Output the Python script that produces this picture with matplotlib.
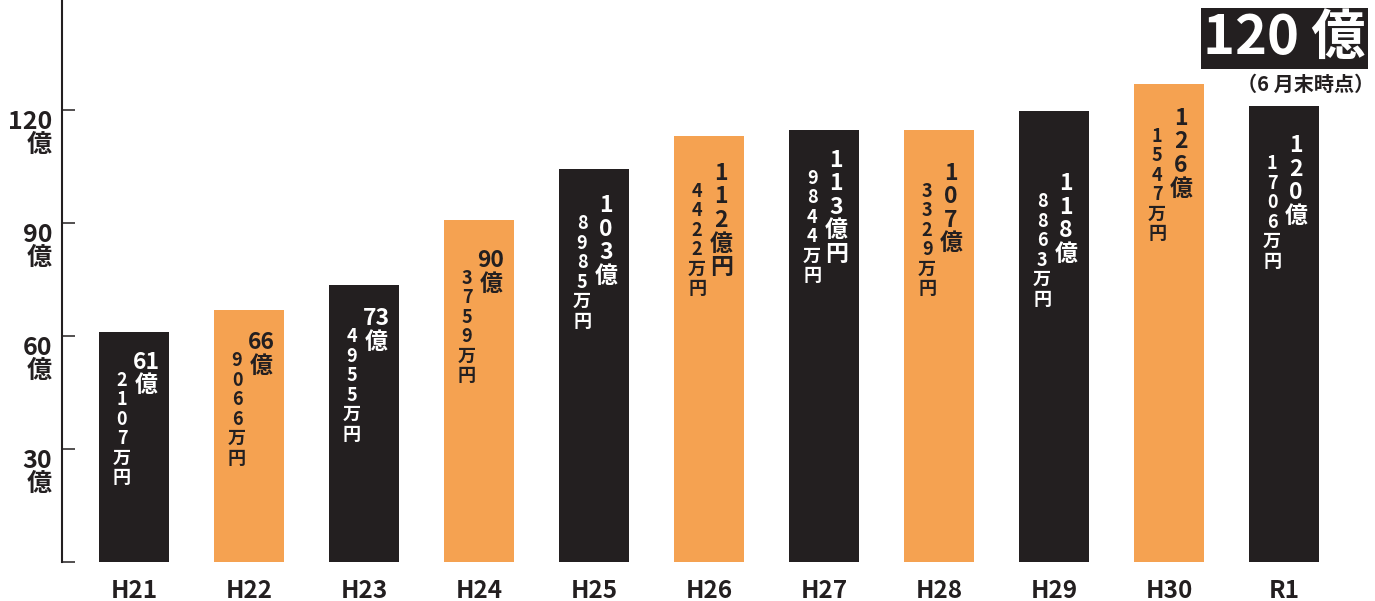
import matplotlib
matplotlib.use("Agg")
import matplotlib.pyplot as plt

plt.rcParams["font.family"] = ["Noto Sans CJK JP", "DejaVu Sans"]

# values
years = ["H21", "H22", "H23", "H24", "H25", "H26", "H27", "H28", "H29", "H30", "R1"]
bar_height = [61.1, 66.9, 73.5, 90.8, 104.3, 113.1, 114.7, 114.7, 119.7, 126.9, 121.0]
oku_label = ["61億", "66億", "73億", "90億", "103億", "112億円", "113億円",
             "107億", "118億", "126億", "120億"]
man_label = ["2107万円", "9066万円", "4955万円", "3759万円", "8985万円", "4422万円",
             "9844万円", "3329万円", "8863万円", "1547万円", "1706万円"]
y_ticks = [30, 60, 90, 120]
headline = "120 億"
headline_note = "（6 月末時点）"

BLACK = "#231f20"
ORANGE = "#f5a251"
bar_colors = [BLACK if i % 2 == 0 else ORANGE for i in range(len(years))]

# how far (px) the label block starts below each bar top
label_drop = [20, 22, 23, 30, 26, 27, 20, 33, 62, 24, 29]

PX = 72 / 100  # pixel -> points at dpi 100


def split_units(label):
    # "61億" stays as "61" + "億"; longer numbers get one character per line
    num = label.rstrip("億万円")
    rest = label[len(num):]
    if len(num) <= 2:
        return [num] + list(rest)
    return list(label)


def stack(ax, x, top, units, dx, first_base, pitch, size, color):
    for k, u in enumerate(units):
        ax.annotate(u, xy=(x, top),
                    xytext=(dx * PX, -(first_base + k * pitch) * PX),
                    textcoords="offset points", ha="center", va="baseline",
                    fontsize=size, fontweight="bold", color=color)


fig = plt.figure(figsize=(13.75, 6.01), dpi=100)
ax = fig.add_axes([62 / 1375, 39 / 601, 1 - 62 / 1375, 562 / 601])

xs = list(range(len(years)))
ax.bar(xs, bar_height, width=0.61, color=bar_colors, zorder=2)

ax.set_xlim(-0.626, 10.79)
ax.set_ylim(0, 149.2)

for i, x in enumerate(xs):
    tc = "white" if bar_colors[i] == BLACK else BLACK
    drop = label_drop[i]
    stack(ax, x, bar_height[i], split_units(oku_label[i]), 12, drop + 17, 23.5, 16.5, tc)
    stack(ax, x, bar_height[i], list(man_label[i]), -12, drop + 21 + 13, 19.5, 13, tc)

# axis
for side in ["top", "right", "bottom"]:
    ax.spines[side].set_visible(False)
ax.spines["left"].set_color(BLACK)
ax.spines["left"].set_linewidth(1.5)
ax.set_yticks([0] + y_ticks)
ax.set_yticklabels([])
ax.tick_params(axis="y", direction="in", length=9.5, width=1.1, color=BLACK)

for v in y_ticks:
    ax.annotate(str(v), xy=(0, v), xycoords=("axes fraction", "data"),
                xytext=(-10 * PX, -19 * PX), textcoords="offset points",
                ha="right", va="baseline", fontsize=18, fontweight="bold", color=BLACK)
    ax.annotate("億", xy=(0, v), xycoords=("axes fraction", "data"),
                xytext=(-10 * PX, -42 * PX), textcoords="offset points",
                ha="right", va="baseline", fontsize=18, fontweight="bold", color=BLACK)

ax.set_xticks(xs)
ax.set_xticklabels(years, fontsize=17.5, fontweight="bold", color=BLACK)
ax.tick_params(axis="x", length=0, pad=12)

# headline box, top right
fig.text(1284.5 / 1375, 1 - 38.5 / 601, headline, ha="center", va="center",
         fontsize=39, fontweight="bold", color="white",
         bbox=dict(boxstyle="square,pad=0.05", facecolor=BLACK, edgecolor="none"))
fig.text(1306 / 1375, 1 - 84 / 601, headline_note, ha="center", va="center",
         fontsize=14.5, fontweight="bold", color=BLACK)

fig.savefig("out.png", dpi=100, facecolor="white")
